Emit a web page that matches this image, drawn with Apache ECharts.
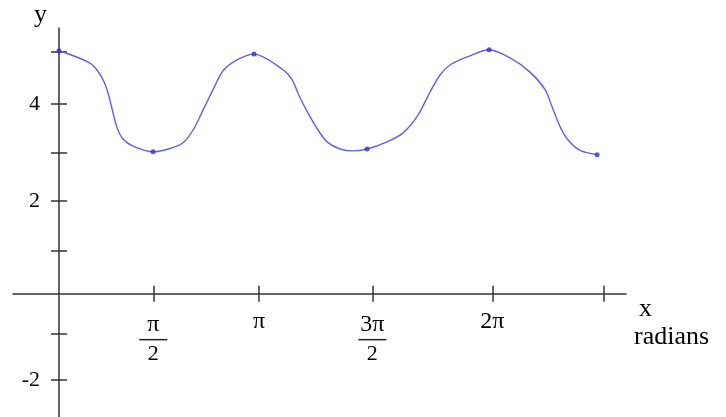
<!DOCTYPE html>
<html lang="en">
<head>
    <meta charset="UTF-8">
    <title>y vs x radians</title>
    <script src="https://cdn.jsdelivr.net/npm/echarts@6/dist/echarts.min.js"></script>
    <style>
        html, body { margin: 0; padding: 0; background: #fff; }
        #main { width: 726px; height: 417px; }
    </style>
</head>
<body>
    <div id="main"></div>
    <script>
        // curve (x in radians, y value)
        var curveX = [0, 0.449, 0.595, 0.696, 0.768, 0.841, 0.928, 1.073, 1.363, 1.609, 1.798, 1.943, 2.088, 2.233, 2.378, 2.581,
            2.827, 3.248, 3.378, 3.494, 3.639, 3.755, 3.886, 4.074, 4.263, 4.466, 4.756, 4.988, 5.191, 5.379, 5.524, 5.669, 5.916,
            6.235, 6.539, 6.829, 7.047, 7.148, 7.264, 7.380, 7.554, 7.801];
        var curveY = [5.12, 4.86, 4.62, 4.30, 3.90, 3.50, 3.26, 3.11, 2.99, 3.06, 3.18, 3.45, 3.87, 4.30, 4.70, 4.93,
            5.05, 4.72, 4.51, 4.13, 3.73, 3.45, 3.20, 3.05, 3.01, 3.05, 3.20, 3.39, 3.73, 4.25, 4.61, 4.82, 4.99,
            5.14, 4.97, 4.67, 4.30, 3.94, 3.52, 3.24, 3.02, 2.93];
        // marked points
        var dotX = [0, 1.363, 2.827, 4.466, 6.235, 7.801];
        var dotY = [5.12, 2.99, 5.05, 3.05, 5.14, 2.93];

        // axis ticks / labels
        var xTickVals = [1.367, 2.900, 4.543, 6.283, 7.902];
        var xLabelVals = [1.367, 2.900, 4.543, 6.283];
        var xLabels = ['π/2', 'π', '3π/2', '2π'];
        var yTickVals = [5.095, 3.999, 2.966, 1.954, 0.900, -0.850, -1.819];
        var yLabelVals = [3.999, 1.954, -1.819];
        var yLabels = ['4', '2', '-2'];

        var serif = 'Liberation Serif, Times New Roman, serif';
        var axisColor = '#333';

        var xMin = -0.667, xMax = 8.22;
        var yMin = -2.6, yMax = 5.6;
        var gridLeft = 13, gridRight = 100, gridTop = 28, gridBottom = 0;
        var W = 726, H = 417;

        var curveData = [];
        for (var i = 0; i < curveX.length; i++) {
            curveData.push([curveX[i], curveY[i]]);
        }
        var dotData = [];
        for (var j = 0; j < dotX.length; j++) {
            dotData.push([dotX[j], dotY[j]]);
        }

        // the axes cross at (0, 0): shift them there from the grid edges
        var plotW = W - gridLeft - gridRight;
        var plotH = H - gridTop - gridBottom;
        var yAxisOffset = -(0 - xMin) / (xMax - xMin) * plotW;
        var xAxisOffset = -(0 - yMin) / (yMax - yMin) * plotH;

        function nearest(list, value) {
            var v = Number(value), best = 0;
            for (var i = 1; i < list.length; i++) {
                if (Math.abs(list[i] - v) < Math.abs(list[best] - v)) best = i;
            }
            return best;
        }

        function xLabelText(value) {
            var s = xLabels[nearest(xLabelVals, value)];
            if (s.indexOf('/') > 0) {
                var parts = s.split('/');
                return '{n|' + parts[0] + '}\n{b| }\n{d|' + parts[1] + '}';
            }
            return '{p|' + s + '}';
        }

        function yLabelText(value) {
            return yLabels[nearest(yLabelVals, value)];
        }

        var myChart = echarts.init(document.getElementById('main'));
        var option = {
            animation: false,
            grid: {
                left: gridLeft,
                right: gridRight,
                top: gridTop,
                bottom: gridBottom,
                containLabel: false,
                outerBoundsMode: 'none'
            },
            xAxis: [{
                type: 'value',
                min: xMin,
                max: xMax,
                position: 'bottom',
                offset: xAxisOffset,
                name: '{a|x}\n{r|radians}',
                nameLocation: 'end',
                nameGap: 8,
                nameTextStyle: {
                    align: 'left',
                    verticalAlign: 'top',
                    padding: [2, 0, 0, 0],
                    rich: {
                        a: { fontFamily: serif, fontSize: 26, color: '#000', lineHeight: 28, padding: [0, 0, 0, 5] },
                        r: { fontFamily: serif, fontSize: 26, color: '#000', lineHeight: 28 }
                    }
                },
                axisLine: { onZero: false, lineStyle: { color: axisColor, width: 1.5 } },
                axisTick: { customValues: xTickVals, length: 8, lineStyle: { color: axisColor, width: 1.5 } },
                axisLabel: {
                    customValues: xLabelVals,
                    margin: 19,
                    formatter: xLabelText,
                    rich: {
                        p: { fontFamily: serif, fontSize: 24, color: '#000', lineHeight: 18 },
                        n: { fontFamily: serif, fontSize: 24, color: '#000', lineHeight: 24 },
                        b: { width: 28, height: 1.5, lineHeight: 6, backgroundColor: '#222' },
                        d: { fontFamily: serif, fontSize: 22, color: '#000', lineHeight: 24 }
                    }
                },
                splitLine: { show: false }
            }, {
                // second copy only for the upper half of the ticks
                type: 'value',
                min: xMin,
                max: xMax,
                position: 'bottom',
                offset: xAxisOffset,
                axisLine: { show: false, onZero: false },
                axisTick: { customValues: xTickVals, inside: true, length: 8, lineStyle: { color: axisColor, width: 1.5 } },
                axisLabel: { show: false },
                splitLine: { show: false }
            }],
            yAxis: [{
                type: 'value',
                min: yMin,
                max: yMax,
                position: 'left',
                offset: yAxisOffset,
                name: 'y',
                nameLocation: 'end',
                nameGap: 0,
                nameTextStyle: {
                    fontFamily: serif,
                    fontSize: 26,
                    color: '#000',
                    align: 'right',
                    verticalAlign: 'bottom',
                    padding: [0, 12, 0, 0]
                },
                axisLine: { onZero: false, lineStyle: { color: axisColor, width: 1.5 } },
                axisTick: { customValues: yTickVals, length: 8, lineStyle: { color: axisColor, width: 1.5 } },
                axisLabel: {
                    customValues: yLabelVals,
                    formatter: yLabelText,
                    margin: 19,
                    fontFamily: serif,
                    fontSize: 22,
                    color: '#000'
                },
                splitLine: { show: false }
            }, {
                type: 'value',
                min: yMin,
                max: yMax,
                position: 'left',
                offset: yAxisOffset,
                axisLine: { show: false, onZero: false },
                axisTick: { customValues: yTickVals, inside: true, length: 8, lineStyle: { color: axisColor, width: 1.5 } },
                axisLabel: { show: false },
                splitLine: { show: false }
            }],
            series: [{
                type: 'line',
                data: curveData,
                smooth: 0.3,
                symbol: 'none',
                lineStyle: { color: '#6262da', width: 1.4 },
                z: 3
            }, {
                type: 'scatter',
                data: dotData,
                symbolSize: 5,
                itemStyle: { color: '#3434c8' },
                z: 4
            }]
        };
        myChart.setOption(option);
    </script>
</body>
</html>
